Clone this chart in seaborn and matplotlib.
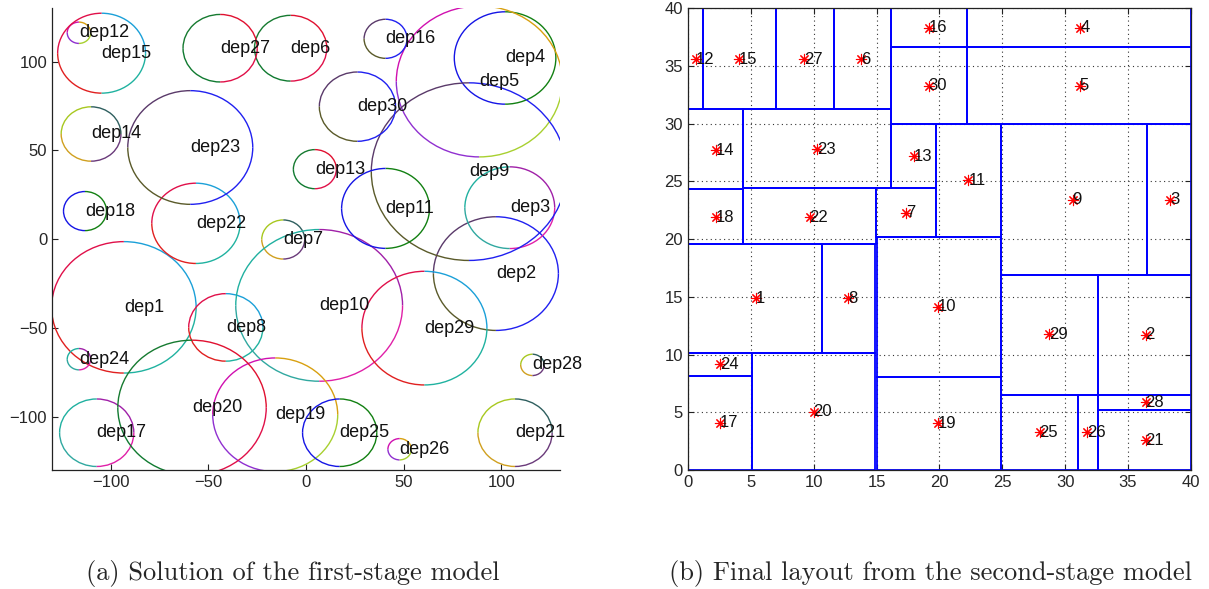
import matplotlib
matplotlib.use("Agg")
import pandas as pd
import matplotlib.pyplot as plt
from matplotlib.patches import Arc, Rectangle
import seaborn as sns

# ---- (a) first-stage model: one circle per department ----
dep_ids = list(range(1, 31))
circ_x = [-93.2, 97.3, 104.4, 102.0, 88.8, -7.8, -11.6, -41.0, 83.5, 6.8,
          40.8, -116.2, 4.6, -110.0, -104.6, 40.8, -107.1, -113.1, -15.7, -58.3,
          107.1, -56.3, -59.2, -116.2, 17.3, 48.0, -43.9, 116.0, 60.7, 26.4]
circ_y = [-38.4, -19.4, 17.7, 102.0, 88.8, 107.5, -0.2, -49.7, 38.0, -37.3,
          17.3, 116.2, 39.4, 59.2, 104.7, 112.8, -109.0, 15.8, -98.9, -94.9,
          -109.0, 8.9, 51.6, -67.6, -109.0, -118.3, 107.5, -70.8, -50.1, 74.6]
circ_r = [37.0, 32.0, 23.0, 26.0, 42.5, 18.5, 11.0, 19.0, 50.0, 42.7,
          22.5, 6.0, 11.0, 15.3, 22.5, 11.0, 19.0, 11.0, 32.0, 38.0,
          19.0, 22.6, 32.0, 6.0, 19.0, 6.0, 19.0, 6.0, 32.0, 19.5]
circ_scheme = ['A', 'C', 'E', 'D', 'G', 'B', 'F', 'A', 'C', 'E',
               'D', 'G', 'B', 'F', 'A', 'C', 'E', 'D', 'G', 'B',
               'F', 'A', 'C', 'E', 'D', 'G', 'B', 'F', 'A', 'C']

# quadrant colours: top-right, top-left, bottom-left, bottom-right
schemes = {
    'A': ['#1ba0d8', '#e0104a', '#e02020', '#20b2a0'],
    'B': ['#e01030', '#167a30', '#107a30', '#e01048'],
    'C': ['#2020f0', '#5a3a6a', '#5a5a2a', '#2020f0'],
    'D': ['#128012', '#1515e5', '#1515e5', '#128012'],
    'E': ['#a020a8', '#20b0a0', '#30a8a0', '#e020a8'],
    'F': ['#2f5f5f', '#a8c820', '#d0a020', '#6a3a7a'],
    'G': ['#d8a010', '#d010b0', '#9030d0', '#a8d030'],
}

# ---- (b) second-stage model: final rectangles and department points ----
rect_x0 = [0.0, 32.6, 36.5, 22.2, 22.2, 11.58, 14.98, 10.7, 24.9, 15.03,
           19.73, 0.0, 16.18, 0.0, 1.22, 16.18, 0.0, 0.0, 15.03, 5.07,
           32.6, 4.41, 4.41, 0.0, 24.9, 31.05, 7.0, 32.6, 24.9, 16.18]
rect_y0 = [10.15, 6.52, 16.9, 36.65, 30.0, 31.26, 20.2, 10.15, 16.9, 8.08,
           20.2, 31.26, 24.4, 24.3, 31.26, 36.65, 0.0, 19.6, 0.0, 0.0,
           0.0, 19.6, 24.4, 8.14, 0.0, 0.0, 31.26, 5.19, 6.52, 30.0]
rect_x1 = [10.7, 40.0, 40.0, 40.0, 40.0, 16.18, 19.73, 14.9, 36.5, 24.9,
           24.9, 1.22, 19.73, 4.41, 7.0, 22.2, 5.07, 4.41, 24.9, 14.9,
           40.0, 14.98, 16.18, 5.07, 31.05, 32.6, 11.58, 40.0, 32.6, 22.2]
rect_y1 = [19.6, 16.9, 30.0, 40.0, 36.65, 40.0, 24.4, 19.6, 30.0, 20.2,
           30.0, 40.0, 30.0, 31.26, 40.0, 40.0, 8.14, 24.3, 8.08, 10.15,
           5.19, 24.4, 31.26, 10.15, 6.52, 6.52, 40.0, 6.52, 16.9, 36.65]
pt_x = [5.42, 36.4, 38.35, 31.2, 31.15, 13.8, 17.35, 12.77, 30.6, 19.87,
        22.3, 0.64, 18.0, 2.23, 4.06, 19.15, 2.55, 2.23, 19.87, 9.99,
        36.4, 9.67, 10.28, 2.55, 27.97, 31.77, 9.24, 36.4, 28.7, 19.15]
pt_y = [14.86, 11.7, 23.4, 38.3, 33.3, 35.6, 22.3, 14.86, 23.4, 14.14,
        25.1, 35.6, 27.2, 27.7, 35.6, 38.3, 4.1, 21.9, 4.04, 5.05,
        2.6, 21.9, 27.8, 9.15, 3.26, 3.26, 35.6, 5.89, 11.75, 33.3]

sns.set_style("ticks")
plt.rcParams['font.family'] = ['Liberation Sans', 'DejaVu Sans']
plt.rcParams['xtick.direction'] = 'in'
plt.rcParams['ytick.direction'] = 'in'

fig = plt.figure(figsize=(12.09, 5.89), dpi=100)
ax1 = fig.add_axes([0.043, 0.202, 0.420, 0.784])
ax2 = fig.add_axes([0.569, 0.202, 0.416, 0.784])

# left: multicoloured circles
for i, d in enumerate(dep_ids):
    cols = schemes[circ_scheme[i]]
    for q in range(4):
        ax1.add_patch(Arc((circ_x[i], circ_y[i]), 2 * circ_r[i], 2 * circ_r[i],
                          theta1=90 * q, theta2=90 * (q + 1),
                          color=cols[q], lw=1.0))
    ax1.text(circ_x[i], circ_y[i], f"dep{d}", ha='left', va='center',
             fontsize=13, color='#111111')

ax1.set_xlim(-130, 130)
ax1.set_ylim(-130, 130)
ax1.set_xticks([-100, -50, 0, 50, 100])
ax1.set_yticks([-100, -50, 0, 50, 100])
ax1.tick_params(labelsize=12, length=4, width=0.8, color='#222222')
sns.despine(ax=ax1)
for s in ['left', 'bottom']:
    ax1.spines[s].set_color('#222222')
    ax1.spines[s].set_linewidth(0.9)

# right: final block layout
ax2.grid(True, ls=(0, (1, 3)), color='#333333', lw=0.8)
ax2.set_axisbelow(True)
for x0, y0, x1, y1 in zip(rect_x0, rect_y0, rect_x1, rect_y1):
    ax2.add_patch(Rectangle((x0, y0), x1 - x0, y1 - y0, fill=False,
                            edgecolor='#0000ff', lw=1.3, zorder=2))

pts = pd.DataFrame({'x': pt_x, 'y': pt_y, 'dep': dep_ids})
sns.scatterplot(data=pts, x='x', y='y', ax=ax2, marker=(8, 2, 0),
                color='red', s=55, linewidth=0.8, zorder=3)
for x, y, d in zip(pt_x, pt_y, dep_ids):
    ax2.text(x, y, str(d), ha='left', va='center',
             fontsize=12, color='#111111', zorder=4)

ax2.set_xlim(0, 40)
ax2.set_ylim(0, 40)
ax2.set_xticks(range(0, 41, 5))
ax2.set_yticks(range(0, 41, 5))
ax2.set_xlabel('')
ax2.set_ylabel('')
ax2.tick_params(labelsize=12, length=4, width=0.8, top=True, right=True,
                color='#222222')
for s in ax2.spines.values():
    s.set_color('#222222')
    s.set_linewidth(0.9)

fig.text(0.2425, 0.0153, '(a) Solution of the first-stage model',
         ha='center', va='baseline', fontsize=19, family='cmr10')
fig.text(0.770, 0.0153, '(b) Final layout from the second-stage model',
         ha='center', va='baseline', fontsize=19, family='cmr10')

fig.savefig('out.png', dpi=100)
